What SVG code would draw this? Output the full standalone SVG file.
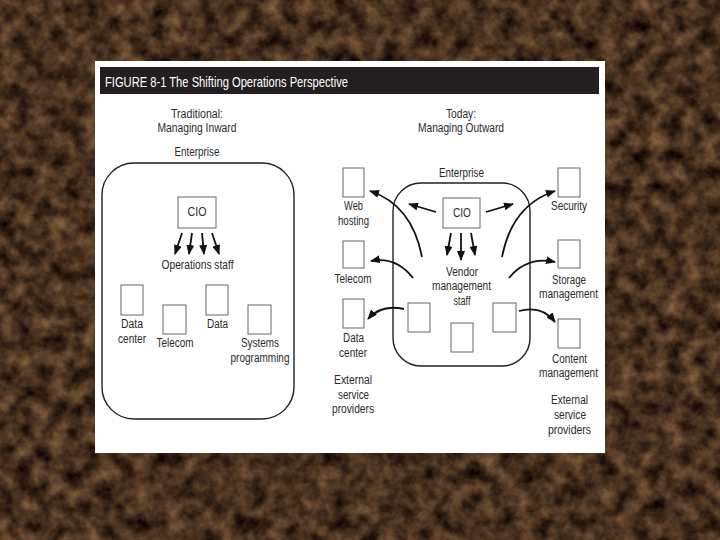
<svg xmlns="http://www.w3.org/2000/svg" width="720" height="540" viewBox="0 0 720 540">
<defs>
<filter id="marble" x="0" y="0" width="720" height="540" filterUnits="userSpaceOnUse" color-interpolation-filters="sRGB">
<feTurbulence type="fractalNoise" baseFrequency="0.06" numOctaves="5" seed="7" result="n"/>
<feColorMatrix in="n" type="matrix" values="0.62 0 0 0 -0.03  0.48 0 0 0 -0.05  0.3 0 0 0 -0.03  0 0 0 0 1"/>
</filter>
<marker id="ah" markerUnits="userSpaceOnUse" markerWidth="10" markerHeight="8" viewBox="0 0 10 8" refX="9" refY="4" orient="auto">
<path d="M0,0 L10,4 L0,8 z" fill="#111"/>
</marker>
<style>
text{font-family:"Liberation Sans Narrow","Liberation Sans",Arial,sans-serif;font-size:12.5px;fill:#2a2a2a;text-anchor:middle}
.title{font-size:15px;fill:#fff;text-anchor:start}
.box{fill:#fff;stroke:#666;stroke-width:1}
.ent{fill:none;stroke:#222;stroke-width:1.4}
.arr{fill:none;stroke:#111;stroke-width:1.8;marker-end:url(#ah)}
</style>
</defs>
<rect x="0" y="0" width="720" height="540" fill="#45301f"/>
<rect x="0" y="0" width="720" height="540" filter="url(#marble)"/>
<rect x="95" y="61" width="510" height="392" fill="#fff"/>
<rect x="100" y="67" width="499" height="27" fill="#231f20"/>
<text class="title" x="105" y="87" textLength="243" lengthAdjust="spacingAndGlyphs">FIGURE 8-1  The Shifting Operations Perspective</text>

<g id="left-heading">
<text x="197" y="118" textLength="52" lengthAdjust="spacingAndGlyphs">Traditional:</text>
<text x="197" y="132" textLength="79" lengthAdjust="spacingAndGlyphs">Managing Inward</text>
</g>
<g id="left-enterprise">
<text x="197" y="156" textLength="45" lengthAdjust="spacingAndGlyphs">Enterprise</text>
<rect class="ent" x="102" y="163" width="192" height="256" rx="32" ry="32"/>
</g>
<g id="left-cio">
<rect class="box" x="178" y="197" width="38" height="31"/>
<text x="197" y="216" textLength="19" lengthAdjust="spacingAndGlyphs">CIO</text>
</g>
<g id="left-ops">
<text x="197.5" y="269" textLength="72" lengthAdjust="spacingAndGlyphs">Operations staff</text>
</g>
<g id="left-datacenter">
<rect class="box" x="121" y="285" width="22" height="30"/>
<text x="132" y="328" textLength="22" lengthAdjust="spacingAndGlyphs">Data</text>
<text x="132" y="343" textLength="28" lengthAdjust="spacingAndGlyphs">center</text>
</g>
<g id="left-telecom">
<rect class="box" x="163" y="305" width="23" height="29"/>
<text x="175" y="347" textLength="37" lengthAdjust="spacingAndGlyphs">Telecom</text>
</g>
<g id="left-data">
<rect class="box" x="206" y="285" width="22" height="30"/>
<text x="217.5" y="328" textLength="21" lengthAdjust="spacingAndGlyphs">Data</text>
</g>
<g id="left-systems">
<rect class="box" x="248" y="305" width="23" height="29"/>
<text x="260" y="347" textLength="38" lengthAdjust="spacingAndGlyphs">Systems</text>
<text x="260" y="362" textLength="59" lengthAdjust="spacingAndGlyphs">programming</text>
</g>

<g id="right-heading">
<text x="461" y="118" textLength="30" lengthAdjust="spacingAndGlyphs">Today:</text>
<text x="461" y="132" textLength="86" lengthAdjust="spacingAndGlyphs">Managing Outward</text>
</g>
<g id="right-enterprise">
<text x="461.5" y="177" textLength="45" lengthAdjust="spacingAndGlyphs">Enterprise</text>
<rect class="ent" x="393" y="183" width="137" height="183" rx="28" ry="28"/>
<rect class="box" x="408" y="303" width="22" height="29"/>
<rect class="box" x="451" y="323" width="22" height="29"/>
<rect class="box" x="493" y="303" width="23" height="29"/>
</g>
<g id="right-cio">
<rect class="box" x="443" y="198" width="37" height="30"/>
<text x="462" y="217" textLength="18" lengthAdjust="spacingAndGlyphs">CIO</text>
</g>
<g id="right-vendor">
<text x="462" y="276" textLength="32" lengthAdjust="spacingAndGlyphs">Vendor</text>
<text x="461.5" y="290" textLength="59" lengthAdjust="spacingAndGlyphs">management</text>
<text x="462" y="305" textLength="17" lengthAdjust="spacingAndGlyphs">staff</text>
</g>
<g id="ext-web">
<rect class="box" x="343" y="168" width="21" height="29"/>
<text x="353.5" y="210" textLength="19" lengthAdjust="spacingAndGlyphs">Web</text>
<text x="353.5" y="225" textLength="31" lengthAdjust="spacingAndGlyphs">hosting</text>
</g>
<g id="ext-telecom">
<rect class="box" x="343" y="241" width="21" height="27"/>
<text x="353" y="283" textLength="37" lengthAdjust="spacingAndGlyphs">Telecom</text>
</g>
<g id="ext-datacenter">
<rect class="box" x="343" y="299" width="21" height="29"/>
<text x="353.5" y="342" textLength="21" lengthAdjust="spacingAndGlyphs">Data</text>
<text x="353" y="357" textLength="28" lengthAdjust="spacingAndGlyphs">center</text>
</g>
<g id="ext-left-label">
<text x="353" y="384" textLength="38" lengthAdjust="spacingAndGlyphs">External</text>
<text x="353.5" y="399" textLength="31" lengthAdjust="spacingAndGlyphs">service</text>
<text x="353" y="413" textLength="42" lengthAdjust="spacingAndGlyphs">providers</text>
</g>
<g id="ext-security">
<rect class="box" x="558" y="168" width="22" height="29"/>
<text x="569" y="210" textLength="36" lengthAdjust="spacingAndGlyphs">Security</text>
</g>
<g id="ext-storage">
<rect class="box" x="558" y="240" width="22" height="28"/>
<text x="569" y="284" textLength="34" lengthAdjust="spacingAndGlyphs">Storage</text>
<text x="568.5" y="298" textLength="59" lengthAdjust="spacingAndGlyphs">management</text>
</g>
<g id="ext-content">
<rect class="box" x="558" y="319" width="22" height="29"/>
<text x="569.5" y="363" textLength="35" lengthAdjust="spacingAndGlyphs">Content</text>
<text x="568.5" y="377" textLength="59" lengthAdjust="spacingAndGlyphs">management</text>
</g>
<g id="ext-right-label">
<text x="569.5" y="404" textLength="37" lengthAdjust="spacingAndGlyphs">External</text>
<text x="570" y="419" textLength="32" lengthAdjust="spacingAndGlyphs">service</text>
<text x="569.5" y="434" textLength="43" lengthAdjust="spacingAndGlyphs">providers</text>
</g>

<g id="connectors">
<path class="arr" d="M182,233 L175,254"/>
<path class="arr" d="M192,233 L189,254"/>
<path class="arr" d="M202,233 L204,254"/>
<path class="arr" d="M212,233 L219,254"/>
<path class="arr" d="M436,212 L409,204"/>
<path class="arr" d="M486,212 L513,204"/>
<path class="arr" d="M451,233 L447,255"/>
<path class="arr" d="M461,233 L461,260"/>
<path class="arr" d="M471,233 L475,255"/>
<path class="arr" d="M422,257 Q412,205 370,191"/>
<path class="arr" d="M413,278 Q396,256 371,261"/>
<path class="arr" d="M404,309 Q381,304 368,319"/>
<path class="arr" d="M502,257 Q512,205 555,191"/>
<path class="arr" d="M509,278 Q527,256 555,262"/>
<path class="arr" d="M519,311 Q542,305 555,322"/>
</g>
</svg>
